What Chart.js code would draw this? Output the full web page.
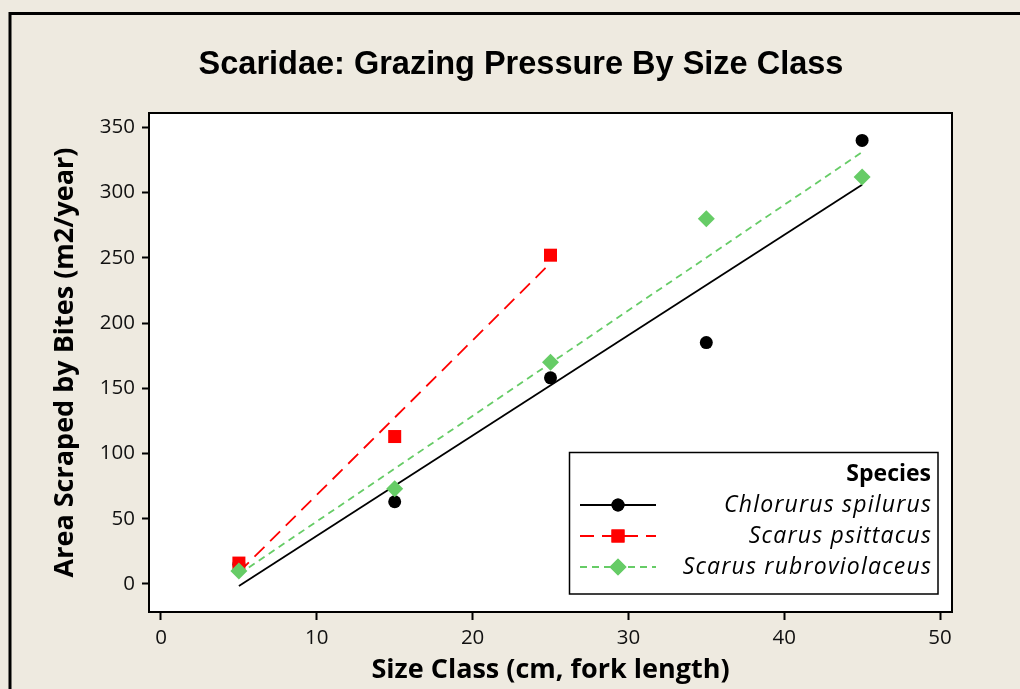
<!DOCTYPE html>
<html>
<head>
<meta charset="utf-8">
<script src="https://cdn.jsdelivr.net/npm/chart.js@4.4.1/dist/chart.umd.min.js"></script>
<style>
  html, body { margin: 0; padding: 0; background: #EEEAE0; overflow: hidden; }
  canvas { display: block; }
</style>
</head>
<body>
<canvas id="c" width="1020" height="689"></canvas>
<script>
var TITLE        = 'Scaridae: Grazing Pressure By Size Class';
var X_TITLE      = 'Size Class (cm, fork length)';
var Y_TITLE      = 'Area Scraped by Bites (m2/year)';
var LEGEND_TITLE = 'Species';
var SPECIES      = ['Chlorurus spilurus', 'Scarus psittacus', 'Scarus rubroviolaceus'];

var X_TICKS = [0, 10, 20, 30, 40, 50];
var Y_TICKS = [0, 50, 100, 150, 200, 250, 300, 350];

// observed values per size class
var chlX = [5, 15, 25, 35, 45];
var chlY = [15, 63, 158, 185, 340];
var psiX = [5, 15, 25];
var psiY = [16, 113, 252];
var rubX = [5, 15, 25, 35, 45];
var rubY = [10, 73, 170, 280, 312];

// fitted line ends
var chlFitX = [5, 45]; var chlFitY = [-1.5, 306];
var psiFitX = [5, 25]; var psiFitY = [9, 246];
var rubFitX = [5, 45]; var rubFitY = [7.5, 331];

var BLACK = '#000000', RED = '#FF0000', GREEN = '#66CC66';
var BG = '#EEEAE0';

function pts(xs, ys) { return xs.map(function(x, i) { return { x: x, y: ys[i] }; }); }

Chart.defaults.font.family = "'Open Sans', 'DejaVu Sans', sans-serif";
Chart.defaults.color = '#111';

// ── Legend look (line style + marker per species) ──
var LEG_STYLE = [
  { color: BLACK, dash: [],      point: 'circle',  r: 6.5, w: 1.8 },
  { color: RED,   dash: [14, 8], point: 'rect',    r: 9.2, w: 1.8 },
  { color: GREEN, dash: [7, 5],  point: 'rectRot', r: 8.5, w: 1.8 }
];

var framePlugin = {
  id: 'frame',
  beforeDraw: function(chart) {
    var ctx = chart.ctx, a = chart.chartArea;
    ctx.save();
    ctx.fillStyle = BG;
    ctx.fillRect(0, 0, chart.width, chart.height);
    // outer frame: left + top only
    ctx.strokeStyle = '#000'; ctx.lineWidth = 3;
    ctx.beginPath();
    ctx.moveTo(10, chart.height); ctx.lineTo(10, 13.5); ctx.lineTo(chart.width, 13.5);
    ctx.stroke();
    ctx.fillStyle = '#fff';
    ctx.fillRect(a.left, a.top, a.right - a.left, a.bottom - a.top);
    ctx.restore();
  },
  afterDatasetsDraw: function(chart) {
    var ctx = chart.ctx, a = chart.chartArea;
    ctx.save();
    ctx.strokeStyle = '#000'; ctx.lineWidth = 2;
    ctx.strokeRect(a.left, a.top, a.right - a.left, a.bottom - a.top);

    // ── legend box ──
    var lx = 569.5, ly = 452.5, lw = 368.5, lh = 141.5;
    ctx.fillStyle = '#fff';
    ctx.fillRect(lx, ly, lw, lh);
    ctx.lineWidth = 1.5;
    ctx.strokeRect(lx, ly, lw, lh);
    ctx.fillStyle = '#000';
    ctx.textAlign = 'right'; ctx.textBaseline = 'middle';
    ctx.font = "bold 23px 'Open Sans', sans-serif";
    ctx.fillText(LEGEND_TITLE, 931, 474);
    var rows = [505, 536, 567];
    ctx.font = "italic 23px 'Open Sans', sans-serif";
    ctx.letterSpacing = '1.2px';
    SPECIES.forEach(function(name, i) {
      var s = LEG_STYLE[i], y = rows[i];
      ctx.strokeStyle = s.color; ctx.lineWidth = s.w;
      ctx.setLineDash(s.dash);
      ctx.beginPath(); ctx.moveTo(580, y); ctx.lineTo(656, y); ctx.stroke();
      ctx.setLineDash([]);
      ctx.fillStyle = s.color;
      Chart.helpers.drawPoint(ctx, { pointStyle: s.point, radius: s.r, borderWidth: 0, rotation: 0 }, 618, y);
      ctx.fill();
      ctx.fillStyle = '#000';
      ctx.fillText(name, 932, y);
    });
    ctx.letterSpacing = '0px';
    ctx.restore();
  },
  afterDraw: function(chart) {
    var ctx = chart.ctx;
    ctx.save();
    ctx.fillStyle = '#000';
    ctx.textAlign = 'center'; ctx.textBaseline = 'middle';
    ctx.font = "bold 32.5px 'Liberation Sans', sans-serif";
    ctx.fillText(TITLE, 521, 65);
    ctx.restore();
  }
};

function fitDs(xs, ys, color, dash, order) {
  return { data: pts(xs, ys), showLine: true, borderColor: color, borderWidth: 1.8,
           borderDash: dash, pointRadius: 0, pointHoverRadius: 0, order: order };
}
function ptDs(xs, ys, color, style, r, order) {
  return { data: pts(xs, ys), showLine: false, pointStyle: style, pointRadius: r,
           pointBackgroundColor: color, pointBorderColor: color, pointBorderWidth: 0, order: order };
}

var tickOpts = function(ticks) {
  return function(scale) { scale.ticks = ticks.map(function(v) { return { value: v }; }); };
};

new Chart(document.getElementById('c'), {
  type: 'scatter',
  data: {
    datasets: [
      fitDs(chlFitX, chlFitY, BLACK, [], 6),
      fitDs(psiFitX, psiFitY, RED, [14, 8], 5),
      fitDs(rubFitX, rubFitY, GREEN, [7, 5], 4),
      ptDs(chlX, chlY, BLACK, 'circle', 6.5, 3),
      ptDs(psiX, psiY, RED, 'rect', 9.2, 2),
      ptDs(rubX, rubY, GREEN, 'rectRot', 8.5, 1)
    ]
  },
  options: {
    responsive: false, animation: false, devicePixelRatio: 1,
    layout: { padding: { left: 0, top: 113, right: 68, bottom: 0 } },
    plugins: { legend: { display: false }, tooltip: { enabled: false }, title: { display: false } },
    scales: {
      x: {
        type: 'linear', min: -0.77, max: 50.77,
        afterBuildTicks: tickOpts(X_TICKS),
        afterFit: function(s) { s.height = 77; },
        border: { display: false },
        grid: { display: true, drawOnChartArea: false, drawTicks: true, tickLength: 8, tickColor: '#000', tickWidth: 2 },
        ticks: { padding: 6, color: '#111', font: { size: 20.5 }, maxRotation: 0 },
        title: { display: true, text: X_TITLE, color: '#000', font: { size: 27, weight: 'bold' },
                 padding: { top: 0, bottom: 2.5 } }
      },
      y: {
        type: 'linear', min: -21.5, max: 361,
        afterBuildTicks: tickOpts(Y_TICKS),
        afterFit: function(s) { s.width = 149; },
        border: { display: false },
        grid: { display: true, drawOnChartArea: false, drawTicks: true, tickLength: 7, tickColor: '#000', tickWidth: 2 },
        ticks: { padding: 7, color: '#111', font: { size: 20.5 } },
        title: { display: true, text: Y_TITLE, color: '#000', font: { size: 27, weight: 'bold' },
                 padding: { top: 49, bottom: 0 } }
      }
    }
  },
  plugins: [framePlugin]
});
</script>
</body>
</html>
